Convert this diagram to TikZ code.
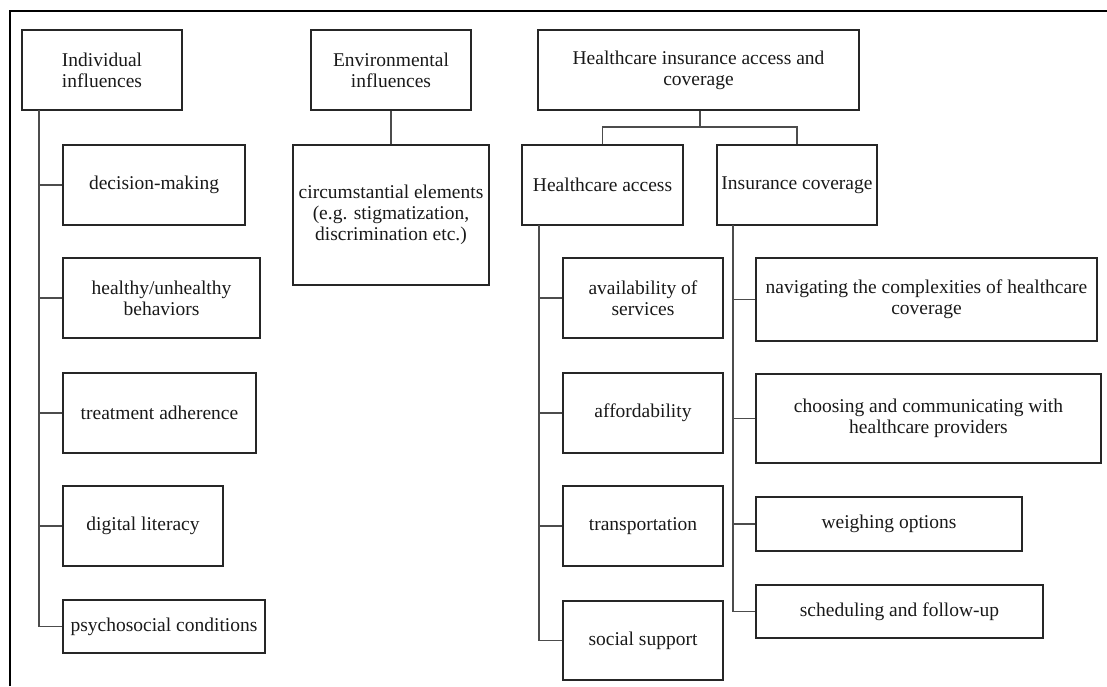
\documentclass[tikz,border=0pt]{standalone}
\usepackage{fontspec}
\setmainfont{Liberation Serif}
\tikzset{
  box/.style={draw=black!85, line width=1.5pt, inner sep=0pt, align=center,
    text=black!90, font=\fontsize{19.5}{21}\selectfont},
  link/.style={draw=black!70, line width=1.4pt}
}
\begin{document}
\begin{tikzpicture}[x=1pt,y=-1pt]
\useasboundingbox (0,0) rectangle (1107,686);
\draw[line width=2.4pt] (10,686) -- (10,11) -- (1107,11);

\node[box, minimum width=160, minimum height=80] (ind) at (102,70) {Individual\\influences};
\node[box, minimum width=160, minimum height=80] (env) at (391,70) {Environmental\\influences};
\node[box, minimum width=321, minimum height=80] (hic) at (698.5,70) {Healthcare insurance access and\\coverage};

\node[box, minimum width=182, minimum height=80] (dec) at (154,185) {decision-making};
\node[box, minimum width=197, minimum height=80] (beh) at (161.5,298) {healthy/unhealthy\\behaviors};
\node[box, minimum width=193, minimum height=80] (treat) at (159.5,413) {treatment adherence};
\node[box, minimum width=160, minimum height=80] (dig) at (143,526) {digital literacy};
\node[box, minimum width=202, minimum height=53] (psy) at (164,626.5) {psychosocial conditions};

\node[box, minimum width=196, minimum height=140] (circ) at (391,215) {circumstantial elements\\(e.g. stigmatization,\\discrimination etc.)};

\node[box, minimum width=161, minimum height=80] (hacc) at (602.5,185) {Healthcare access};
\node[box, minimum width=160, minimum height=80] (icov) at (797,185) {Insurance coverage};

\node[box, minimum width=160, minimum height=80] (avail) at (643,298) {availability of\\services};
\node[box, minimum width=160, minimum height=80] (aff) at (643,413) {affordability};
\node[box, minimum width=160, minimum height=80] (trans) at (643,526) {transportation};
\node[box, minimum width=160, minimum height=79] (soc) at (643,640.5) {social support};

\node[box, minimum width=341, minimum height=83] (nav) at (926.5,299.5) {navigating the complexities of healthcare\\coverage};
\node[box, minimum width=345, minimum height=89] (cho) at (928.5,418.5) {choosing and communicating with\\healthcare providers};
\node[box, minimum width=266, minimum height=54] (wei) at (889,524) {weighing options};
\node[box, minimum width=287, minimum height=53] (sch) at (899.5,611.5) {scheduling and follow-up};

\coordinate (indtrunk) at (39,110);
\draw[link] (indtrunk) |- (dec.west);
\draw[link] (indtrunk) |- (beh.west);
\draw[link] (indtrunk) |- (treat.west);
\draw[link] (indtrunk) |- (dig.west);
\draw[link] (indtrunk) |- (psy.west);

\draw[link] (env) -- (circ);

\coordinate (bus) at (700,127);
\draw[link] (hic.south -| bus) -- (bus) -| (hacc.north);
\draw[link] (bus) -| (icov.north);

\coordinate (acctrunk) at (539,225);
\draw[link] (acctrunk) |- (avail.west);
\draw[link] (acctrunk) |- (aff.west);
\draw[link] (acctrunk) |- (trans.west);
\draw[link] (acctrunk) |- (soc.west);

\coordinate (covtrunk) at (733,225);
\draw[link] (covtrunk) |- (nav.west);
\draw[link] (covtrunk) |- (cho.west);
\draw[link] (covtrunk) |- (wei.west);
\draw[link] (covtrunk) |- (sch.west);
\end{tikzpicture}
\end{document}
